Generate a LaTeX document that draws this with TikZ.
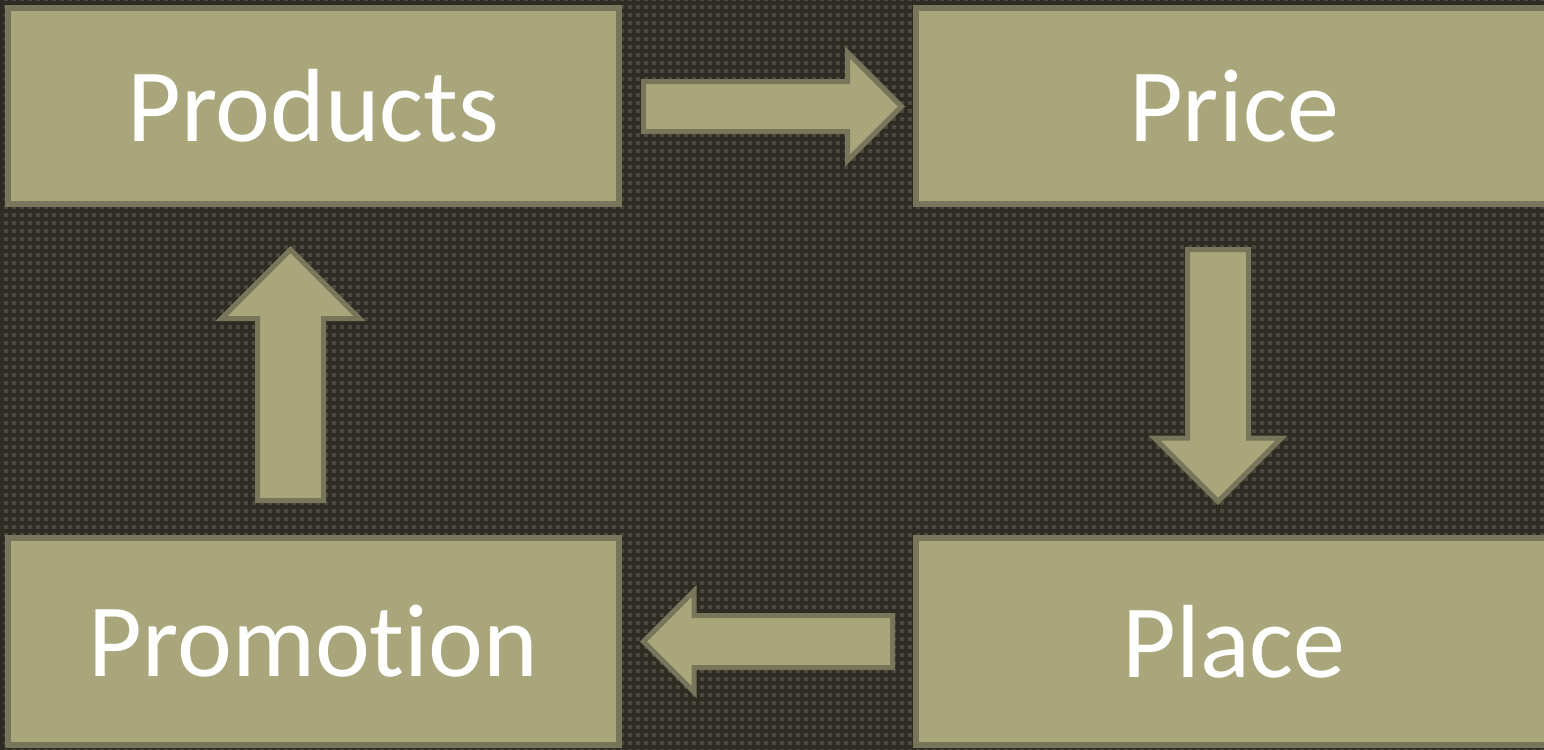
\documentclass[tikz,border=0pt]{standalone}
\usepackage{fontspec}
\setmainfont{Carlito}[Ligatures=NoCommon]
\usetikzlibrary{
    positioning
}
\definecolor{backdrop}{HTML}{4A4842}
\definecolor{weave}{HTML}{2E2B22}
\definecolor{khaki}{HTML}{A9A67C}
\definecolor{khakiline}{HTML}{77765A}
\tikzset{
    % Box style for the four P's
    pbox/.style={
        rectangle,
        minimum width=#1,
        align=center,
        font=\fontsize{52}{60}\selectfont,
        text=white,
        draw=khakiline,
        fill=khaki,
        line width=3pt
    },
    % Fat block arrow style
    blockarrow/.style={
        draw=khakiline,
        fill=khaki,
        line width=2.5pt
    },
    % Background weave lines
    weaveline/.style={
        draw=weave,
        line width=1.75pt
    }
}
% block arrow from a named tail: angle, length, shaft half, head half
\newcommand{\fatarrow}[5]{%
    \begin{scope}[shift={(#1)}, rotate=#2]
        \draw[blockarrow] (0,-#4) -- ({#3-#5},-#4) -- ({#3-#5},-#5) -- (#3,0)
            -- ({#3-#5},#5) -- ({#3-#5},#4) -- (0,#4) -- cycle;
    \end{scope}}
\begin{document}
\begin{tikzpicture}[x=0.5pt, y=-0.5pt]
        \useasboundingbox (0,0) rectangle (1544,750);

        % Background
        \begin{scope}
            \clip (0,0) rectangle (1544,750);
            \fill[backdrop] (0,0) rectangle (1544,750);
            \foreach \i in {0,...,193} {
                \draw[weaveline] (\i*8+2,0) -- (\i*8+2,750);
            }
            \foreach \j in {0,...,94} {
                \draw[weaveline] (0,\j*8+3) -- (1544,\j*8+3);
            }
        \end{scope}

        % Boxes
        \node[pbox=305.5pt, minimum height=98pt] (products) at (313.5,106) {Products};
        \node[pbox=318pt, minimum height=98pt] (price) at (1234,106) {Price};
        \node[pbox=318pt, minimum height=103.5pt] (place) at (1234,641.5) {Place};
        \node[pbox=305.5pt, minimum height=103.5pt] (promotion) at (313.5,641.5) {Promotion};

        % Arrow tails
        \coordinate (toprice) at (643.5,106.5);
        \coordinate (toplace) at (1218,249.5);
        \coordinate (topromotion) at (892.5,641.5);
        \coordinate (toproducts) at (290.5,500.5);

        % Arrows
        \fatarrow{toprice}{0}{258}{25}{54}
        \fatarrow{toplace}{-90}{252}{30.5}{63.5}
        \fatarrow{topromotion}{180}{249}{26}{50.5}
        \fatarrow{toproducts}{90}{251}{33}{69}

\end{tikzpicture}
\end{document}
